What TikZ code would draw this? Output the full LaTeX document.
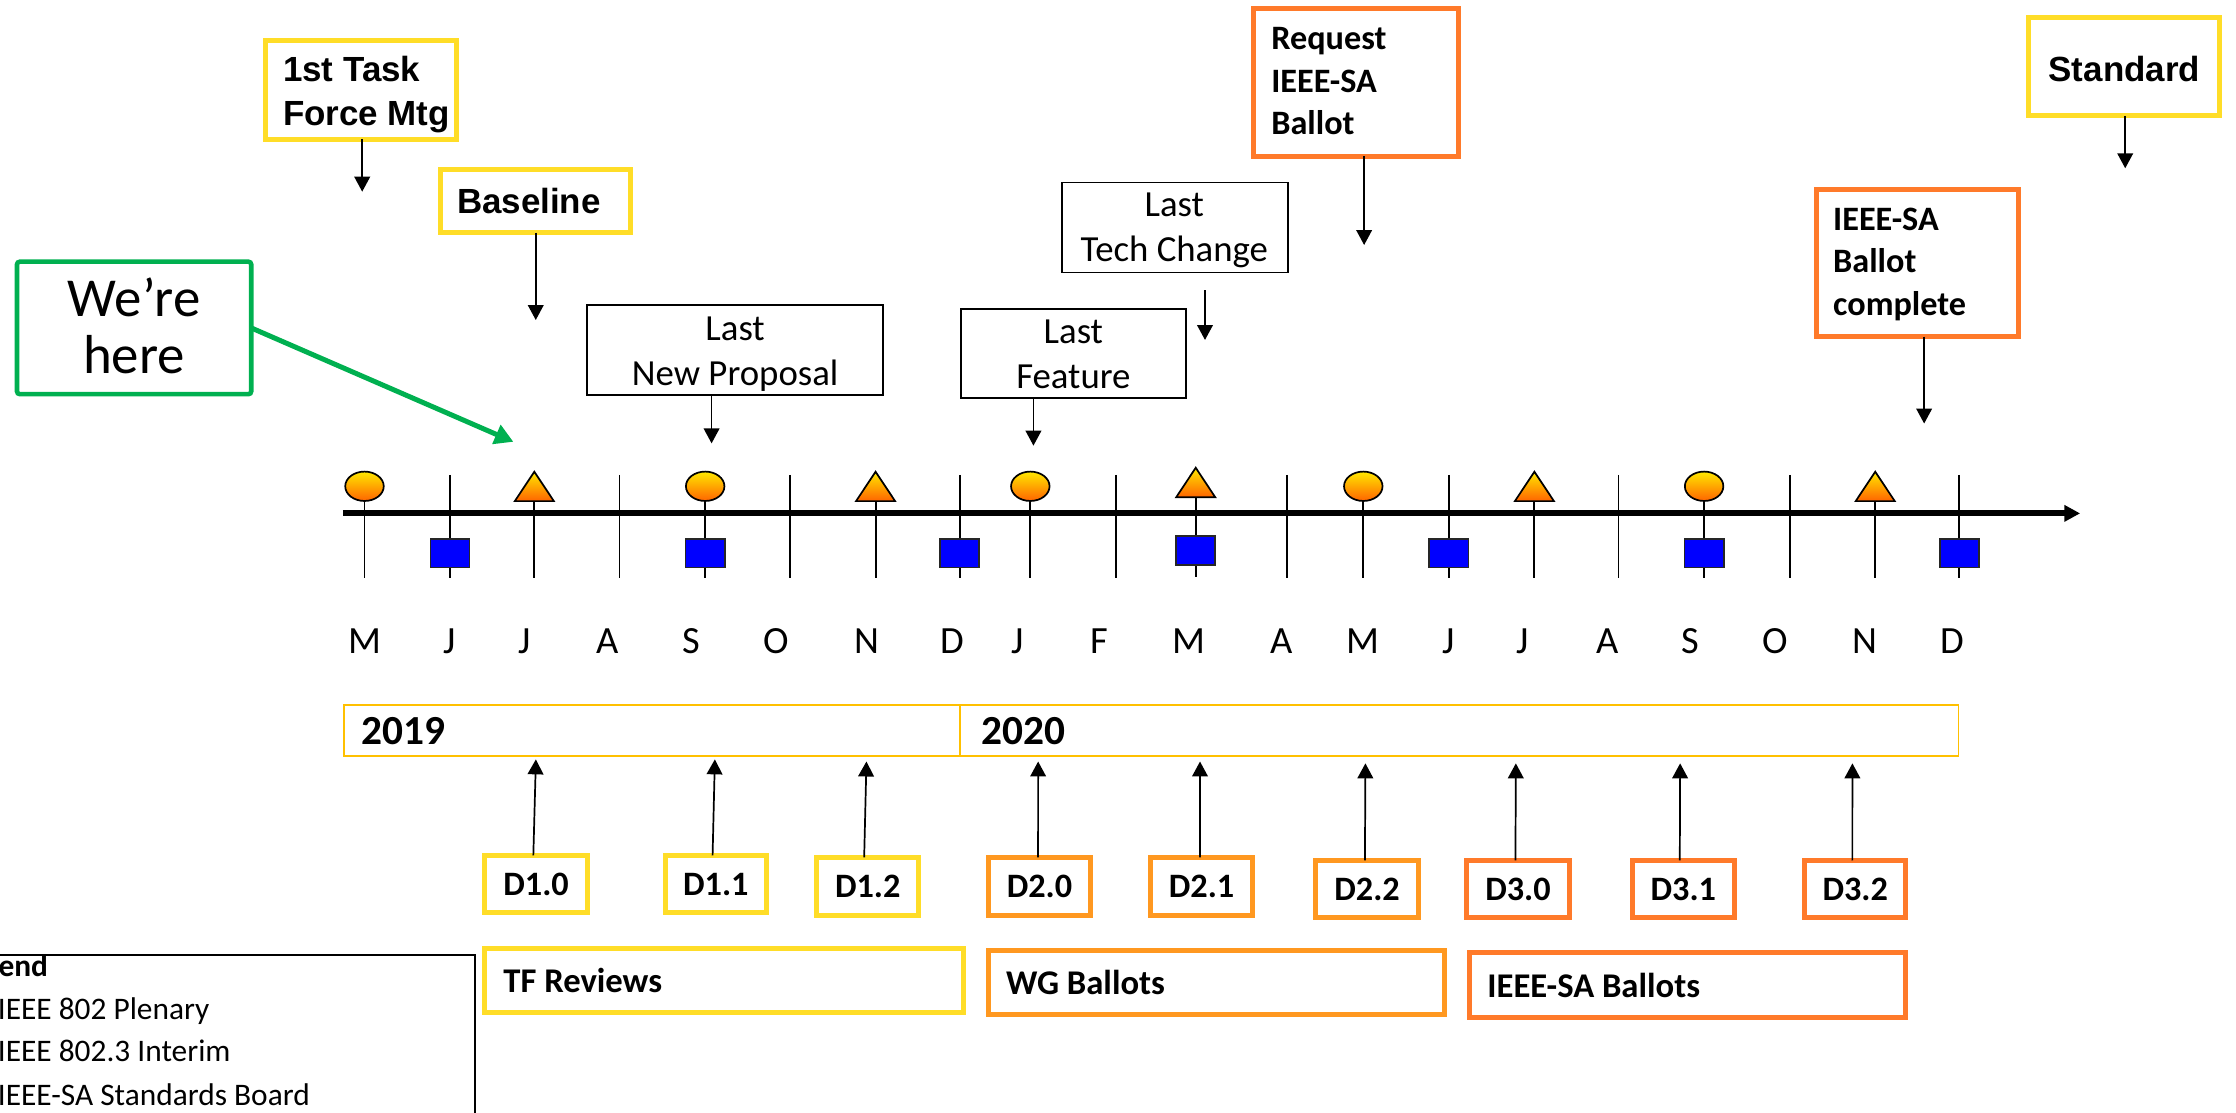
\documentclass[tikz,border=0pt]{standalone}
\usepackage{fontspec}
\setmainfont{Carlito}
\newfontfamily\arialf{Liberation Sans}
\usetikzlibrary{arrows.meta}
\definecolor{boxyellow}{RGB}{255,221,40}
\definecolor{boxorangeA}{RGB}{255,152,32}
\definecolor{boxorangeB}{RGB}{255,122,42}
\definecolor{yearbar}{RGB}{255,192,0}
\definecolor{heregreen}{RGB}{0,176,80}
\definecolor{markTop}{RGB}{255,232,0}
\definecolor{markBot}{RGB}{255,100,0}
\definecolor{sqblue}{RGB}{0,0,255}
\newcommand\myfs[2]{\fontsize{#1}{#2}\selectfont}
\begin{document}
\begin{tikzpicture}[x=1pt,y=-1pt,
  every node/.style={inner sep=0pt,outer sep=0pt},
  rect/.style 2 args={anchor=north west,minimum width=#1,minimum height=#2},
  ybox/.style={draw=boxyellow,line width=3.5pt},
  oboxA/.style={draw=boxorangeA,line width=3.5pt},
  oboxB/.style={draw=boxorangeB,line width=3.5pt},
  thinbox/.style={draw=black,line width=1.3pt},
  arr/.style={line width=1.2pt,-{Triangle[length=10.5pt,width=11pt]}},
  ttl/.style={anchor=base west,align=flush left,text width=200pt},
  ctr/.style={anchor=base,align=flush center,text width=#1},
  ariala/.style={font=\arialf\bfseries\myfs{24.5}{30.4}},
  calb/.style={font=\bfseries\myfs{24}{29.8}},
  calr/.style={font=\myfs{25.8}{31.5}},
  dlab/.style={font=\bfseries\myfs{24}{29}},
  barlab/.style={font=\bfseries\myfs{24.3}{29},align=flush left},
  yearlab/.style={draw=yearbar,line width=1.3pt,font=\bfseries\myfs{29}{30},align=flush left},
  month/.style={anchor=base,font=\myfs{27}{30}},
  legtxt/.style={anchor=base west,font=\myfs{22}{30}},
  marker/.style={top color=markTop,bottom color=markBot,draw=black,line width=1.2pt},
  sq/.style={fill=sqblue,draw=black!85,line width=1.2pt},
]
\useasboundingbox (0,0) rectangle (1568,780);
\clip (0,0) rectangle (1568,780);

% ---- ticks
\foreach \x in {255.6,315.6,374.7,434.4,494.5,554,614,673,722.5,782.6,902.5,956,1016,1076,1135,1195,1255,1315,1374}
  \draw[line width=1.3pt] (\x,333) -- (\x,405);
\draw[line width=1.3pt] (838.5,331) -- (838.5,404.4);

% ---- axis
\coordinate (axL) at (240.5,360);
\coordinate (axR) at (1458.7,360);
\draw[line width=4.2pt,-{Triangle[length=11pt,width=11pt]}] (axL) -- (axR);

% ---- markers
\foreach \x in {255.6,494.5,722.5,956,1195}
  \shade[marker] (\x,341) ellipse [x radius=13.5pt, y radius=10.3pt];
\foreach \x in {374.7,614,1076,1315}
  \shade[marker] (\x-13.7,351.4) -- (\x,330.8) -- (\x+13.7,351.4) -- cycle;
\shade[marker] (838.5-13.7,348.7) -- (838.5,328) -- (838.5+13.7,348.7) -- cycle;
\foreach \x in {315.6,494.5,673,1016,1195,1374}
  \filldraw[sq] (\x-13.7,377.8) rectangle (\x+13.7,398);
\filldraw[sq] (838.5-13.7,375.7) rectangle (838.5+13.7,396);

% ---- months
\foreach \x/\m/\i in {255.6/M/1,315.6/J/2,367.6/J/3,425.9/A/4,484.6/S/5,544/O/6,608/N/7,668/D/8,713.5/J/9,770.8/F/10,834/M/11,899/A/12,956/M/13,1016/J/14,1067.6/J/15,1127/A/16,1185/S/17,1244.6/O/18,1308/N/19,1369.4/D/20}
  \node[month] (m\i) at (\x,458) {\m};

% ---- top boxes
\node[ybox,rect={133.5}{69}] (task1) at (186.5,28.6) {};
\node[ariala,ttl] (task1t) at (198.5,57.3) {1st Task\\Force Mtg};
\coordinate (t1Tip) at (254,134.4);
\draw[arr] (task1.south -| t1Tip) -- (t1Tip);

\node[ybox,rect={133.6}{44.6}] (base) at (308.6,118.6) {};
\node[ariala,anchor=base west] (baset) at (320.5,149.5) {Baseline};
\coordinate (blTip) at (375.7,224.4);
\draw[arr] (base.south -| blTip) -- (blTip);

\node[ybox,rect={134.1}{68.9}] (std) at (1422.6,12.3) {};
\node[ariala,anchor=base] (stdt) at (1489.7,56.8) {Standard};
\coordinate (stdTip) at (1490.3,118);
\draw[arr] (std.south -| stdTip) -- (stdTip);

\node[oboxB,rect={143.6}{103.7}] (req) at (879,6) {};
\node[calb,ttl] (reqt) at (891.5,35) {Request\\IEEE-SA\\Ballot};
\coordinate (reqTip) at (956.6,171.8);
\draw[arr] (req.south -| reqTip) -- (reqTip);

\node[oboxB,rect={141.9}{103.1}] (comp) at (1273.9,132.9) {};
\node[calb,ttl] (compt) at (1285.5,161.3) {IEEE-SA\\Ballot\\complete};
\coordinate (compTip) at (1349.3,297);
\draw[arr] (comp.south -| compTip) -- (compTip);

\node[thinbox,rect={207.8}{62.9}] (lnp) at (411.6,214) {};
\node[calr,ctr=200pt] (lnpt) at (515.5,239) {Last\\New Proposal};
\coordinate (lnpTip) at (499,310.9);
\draw[arr] (lnp.south -| lnpTip) -- (lnpTip);

\node[thinbox,rect={157.8}{62.4}] (lfeat) at (673.8,216.8) {};
\node[calr,ctr=150pt] (lfeatt) at (752.7,240.8) {Last\\Feature};
\coordinate (lfTip) at (724.7,312.5);
\draw[arr] (lfeat.south -| lfTip) -- (lfTip);

\node[thinbox,rect={158}{63.1}] (ltech) at (745,128) {};
\node[calr,ctr=150pt] (ltecht) at (823.5,152) {Last\\Tech Change};
\coordinate (ltcS) at (845,203.4);
\coordinate (ltcT) at (845,238.4);
\draw[arr] (ltcS) -- (ltcT);

% ---- we're here
\node[draw=heregreen,line width=3.2pt,rounded corners=2pt,rect={164.3}{92.9}] (here) at (11.9,183.5) {};
\node[ctr=160pt,font=\myfs{38.5}{39.8}] (heret) at (94,222) {We’re\\here};
\coordinate (hereTip) at (360,309.8);
\draw[heregreen,line width=3.5pt,-{Triangle[length=13pt,width=14pt]}] (here.east) -- (hereTip);

% ---- year bar
\node[yearlab,rect={432.1}{35.7},text width=407.3pt] (y19) at (241.1,494.6) {2019};
\node[yearlab,rect={700.2}{35.7},text width=670pt] (y20) at (673.2,494.6) {2020};

% ---- drafts
\node[ybox,rect={71.8}{40.3},dlab] (d10) at (340,599.8) {D1.0};
\node[ybox,rect={71}{40.4},dlab] (d11) at (466.5,599.8) {D1.1};
\node[ybox,rect={71.4}{40.7},dlab] (d12) at (572.8,601.2) {D1.2};
\node[oboxA,rect={71.9}{40.7},dlab] (d20) at (693,601.2) {D2.0};
\node[oboxA,rect={71.2}{40.7},dlab] (d21) at (807,601.2) {D2.1};
\node[oboxA,rect={71.7}{40.2},dlab] (d22) at (922.8,603.3) {D2.2};
\node[oboxB,rect={71.6}{40.2},dlab] (d30) at (1028.7,603.3) {D3.0};
\node[oboxB,rect={71.7}{40.2},dlab] (d31) at (1144.6,603.3) {D3.1};
\node[oboxB,rect={70.7}{40.2},dlab] (d32) at (1265.6,603.3) {D3.2};
\foreach \n/\dx/\tx/\ty in {d10/-1.9/375.8/532.5,d11/-2.3/501.3/532.5,d12/-2.5/607.6/534,d20/-1/728/534,d21/-1.1/841.5/534,d22/-1.5/957.5/535.3,d30/-1.8/1063/535.3,d31/-2.5/1178.2/535.3,d32/-2/1299/535.3}{
  \coordinate (\n tip) at (\tx,\ty);
  \draw[arr] ([xshift=\dx pt]\n.north) -- (\n tip);
}

% ---- phase bars
\node[ybox,rect={335.5}{45},text width=309.5pt,barlab] (tf) at (340,665) {TF Reviews};
\node[oboxA,rect={319.7}{45.3},text width=294.7pt,barlab] (wg) at (693,666.4) {WG Ballots};
\node[oboxB,rect={305.5}{45.6},text width=281.1pt,barlab] (sab) at (1030.8,668) {IEEE-SA Ballots};

% ---- legend
\node[draw,line width=1.3pt,anchor=north east,minimum width=360pt,minimum height=140pt] (legend) at (333.2,669.6) {};
\node[anchor=base west,font=\bfseries\myfs{22}{30}] (legt) at (-1,685) {\llap{Leg}end};
\node[legtxt] (leg1) at (-1.5,714.7) {IEEE 802 Plenary};
\node[legtxt] (leg2) at (-1.5,744.5) {IEEE 802.3 Interim};
\node[legtxt] (leg3) at (-1.5,775) {IEEE-SA Standards Board};
\end{tikzpicture}
\end{document}
